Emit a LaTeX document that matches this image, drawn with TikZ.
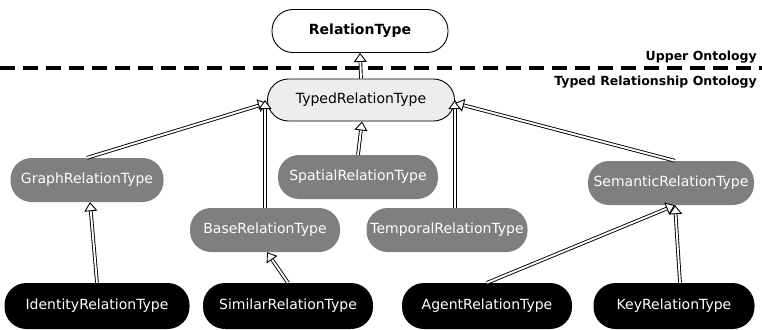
\documentclass[tikz,border=0pt]{standalone}
\usepackage{fontspec}
\setmainfont{DejaVu Sans}
\usetikzlibrary{arrows.meta}
\definecolor{greyfill}{HTML}{7F7F7F}
\definecolor{lightfill}{HTML}{EDEDED}
\tikzset{
  pill/.style={rectangle, rounded corners=21pt, minimum height=44pt, inner sep=0pt,
    font=\fontsize{14}{16}\selectfont},
  whitenode/.style={pill, draw=black, line width=0.9pt, fill=white, font=\fontsize{14}{16}\selectfont\bfseries},
  lightnode/.style={pill, draw=black, line width=0.9pt, fill=lightfill, text=black},
  greynode/.style={pill, fill=greyfill, text=white},
  blacknode/.style={pill, fill=black, text=white, minimum height=46pt, rounded corners=22pt},
  isa/.style={double=white, double distance=1.9pt, line width=0.9pt,
    -{Triangle[open, length=9pt, width=13pt, fill=white, line width=0.9pt]}},
  dashline/.style={line width=3.2pt, dash pattern=on 15pt off 8pt},
  layerlabel/.style={font=\fontsize{12.5}{14}\selectfont\bfseries, inner sep=0pt},
}
\begin{document}
\begin{tikzpicture}[x=1pt, y=-1pt]
\useasboundingbox (0,0) rectangle (762,329);

\coordinate (dashL) at (0,68);
\coordinate (dashR) at (762,68);
\draw[dashline] (dashL) -- (dashR);
\node[layerlabel, anchor=base east] (upper) at (757,60) {Upper Ontology};
\node[layerlabel, anchor=base east] (typedlbl) at (757,85) {Typed Relationship Ontology};

\node[whitenode, minimum width=176pt, minimum height=43pt] (rel) at (360,31) {RelationType};
\node[lightnode, minimum width=187pt, minimum height=42pt] (typed) at (361,100) {TypedRelationType};

\node[greynode, minimum width=153pt] (graph) at (87,180) {GraphRelationType};
\node[greynode, minimum width=160pt] (spatial) at (358,177) {SpatialRelationType};
\node[greynode, minimum width=150pt] (base) at (265,230) {BaseRelationType};
\node[greynode, minimum width=161pt] (temporal) at (447,230) {TemporalRelationType};
\node[greynode, minimum width=166pt] (semantic) at (671,183) {SemanticRelationType};

\node[blacknode, minimum width=185pt] (identity) at (97,306) {IdentityRelationType};
\node[blacknode, minimum width=170pt] (similar) at (288,306) {SimilarRelationType};
\node[blacknode, minimum width=170pt] (agent) at (487,306) {AgentRelationType};
\node[blacknode, minimum width=161pt] (key) at (674,306) {KeyRelationType};

\draw[isa] (typed.north) -- (rel.south);
\draw[isa] (graph.north) -- ([yshift=-3pt]typed.west);
\draw[isa] (base.north) -- (base.north |- typed.west);
\draw[isa] (spatial.north) -- ([xshift=1pt]typed.south);
\draw[isa] ([xshift=8pt]temporal.north) -- ([xshift=8pt]temporal.north |- typed.east);
\draw[isa] ([xshift=4pt]semantic.north) -- ([yshift=-3pt]typed.east);
\draw[isa] (identity.north) -- ([xshift=3pt]graph.south);
\draw[isa] (similar.north) -- ([xshift=2pt]base.south);
\draw[isa] (agent.north) -- ([xshift=4pt]semantic.south);
\draw[isa] ([xshift=6pt]key.north) -- ([xshift=4pt]semantic.south);
\end{tikzpicture}
\end{document}
